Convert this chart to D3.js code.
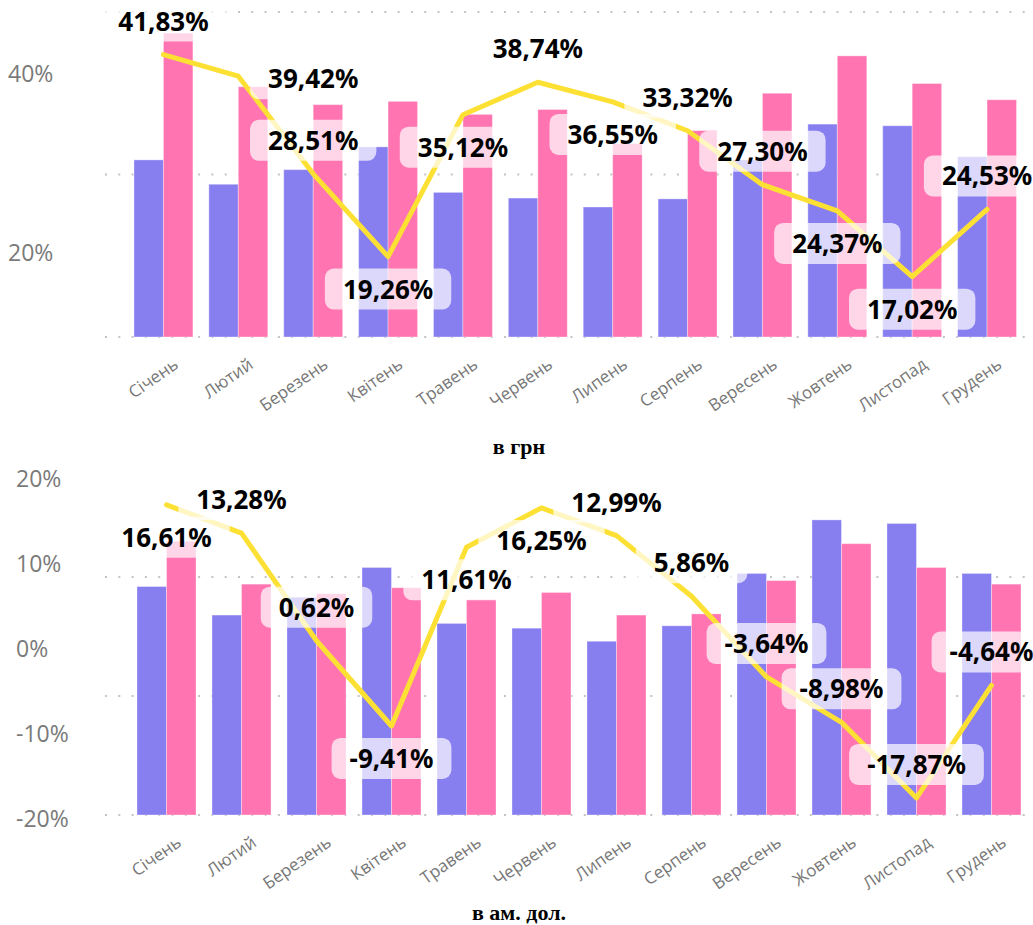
<!DOCTYPE html>
<html>
<head>
<meta charset="utf-8">
<script src="https://cdn.jsdelivr.net/npm/d3@7"></script>
<style>
  body { margin: 0; background: #fff; }
  svg { display: block; }
</style>
</head>
<body>
<div id="chart"></div>
<script>
var months = ["Січень", "Лютий", "Березень", "Квітень", "Травень", "Червень",
  "Липень", "Серпень", "Вересень", "Жовтень", "Листопад", "Грудень"];

// top chart (в грн): line = growth %, bars on hidden axis
var grnRate = [41.83, 39.42, 28.51, 19.26, 35.12, 38.74, 36.55, 33.32, 27.30, 24.37, 17.02, 24.53];
var grnPrev = [10.9, 9.4, 10.3, 11.7, 8.9, 8.55, 8.0, 8.5, 10.9, 13.1, 13.0, 11.1];
var grnCurr = [18.7, 15.4, 14.3, 14.5, 13.7, 14.0, 11.9, 12.7, 15.0, 17.3, 15.6, 14.6];

// bottom chart (в ам. дол.)
var usdRate = [16.61, 13.28, 0.62, -9.41, 11.61, 16.25, 12.99, 5.86, -3.64, -8.98, -17.87, -4.64];
var usdPrev = [19.2, 16.8, 18.3, 20.8, 16.1, 15.7, 14.6, 15.9, 20.3, 24.8, 24.5, 20.3];
var usdCurr = [23.0, 19.4, 18.6, 19.1, 18.1, 18.7, 16.8, 16.9, 19.7, 22.8, 20.8, 19.4];

// where Power BI put each data label
var grnLabelPlace = ["above", "right", "above", "below", "below", "above", "below", "above", "above", "below", "below", "above"];
var usdLabelPlace = ["below", "above", "above", "below", "below", "below", "above", "above", "above", "above", "above", "above"];

var purple = "#877ef0", pink = "#ff74b1", yellow = "#fde034";

var loc = d3.formatLocale({ decimal: ",", thousands: " ", grouping: [3], currency: ["", ""], minus: "-" });
var pct = loc.format(".2f");

var svg = d3.select("#chart").append("svg")
  .attr("width", 1033).attr("height", 925);

function drawPanel(o) {
  var g = svg.append("g");

  var x = d3.scaleBand().domain(months).range(o.xRange)
    .paddingInner(0.213).paddingOuter(0.1065);
  var sub = d3.scaleBand().domain([0, 1]).range([0, x.bandwidth()]);
  var yBar = d3.scaleLinear().domain([0, 20]).range(o.barRange);
  var yLine = d3.scaleLinear().domain(o.lineDomain).range(o.lineRange);

  // dotted gridlines of the hidden bar axis
  g.selectAll(".grid").data([0, 10, 20].filter(function (t) { return yBar(t) >= o.top; }))
    .enter().append("line")
    .attr("x1", 105).attr("x2", 1033)
    .attr("y1", function (d) { return yBar(d); })
    .attr("y2", function (d) { return yBar(d); })
    .attr("stroke", "#c4c4c4").attr("stroke-width", 2)
    .attr("stroke-dasharray", "2 11.3");

  // left axis (line values)
  g.selectAll(".tick").data(o.ticks).enter().append("text")
    .attr("x", o.tickX).attr("y", function (d) { return yLine(d) + 11; })
    .attr("font-family", "Open Sans, sans-serif").attr("font-size", 23)
    .attr("fill", "#7a7a7a")
    .text(function (d) { return d + "%"; });

  // bars
  var groups = g.selectAll(".month").data(months).enter().append("g")
    .attr("transform", function (d) { return "translate(" + x(d) + ",0)"; });
  groups.append("rect")
    .attr("x", sub(0)).attr("width", sub.bandwidth())
    .attr("y", function (d, i) { return yBar(o.prev[i]); })
    .attr("height", function (d, i) { return yBar(0) - yBar(o.prev[i]); })
    .attr("fill", purple).attr("stroke", "#fff").attr("stroke-opacity", 0.35);
  groups.append("rect")
    .attr("x", sub(1)).attr("width", sub.bandwidth())
    .attr("y", function (d, i) { return yBar(o.curr[i]); })
    .attr("height", function (d, i) { return yBar(0) - yBar(o.curr[i]); })
    .attr("fill", pink).attr("stroke", "#fff").attr("stroke-opacity", 0.35);

  // month labels
  g.selectAll(".mlabel").data(months).enter().append("text")
    .attr("transform", function (d) {
      return "translate(" + (x(d) + x.bandwidth() / 2 + 16) + "," + (yBar(0) + 30) + ") rotate(-35)";
    })
    .attr("text-anchor", "end")
    .attr("font-family", "Open Sans, sans-serif").attr("font-size", 17)
    .attr("fill", "#777")
    .text(function (d) { return d; });

  // line
  var cx = function (i) { return x(months[i]) + x.bandwidth() / 2; };
  var line = d3.line()
    .x(function (d, i) { return cx(i); })
    .y(function (d) { return yLine(d); });
  g.append("path").datum(o.rate)
    .attr("d", line)
    .attr("fill", "none").attr("stroke", yellow).attr("stroke-width", 5)
    .attr("stroke-linejoin", "round").attr("stroke-linecap", "round");

  // data labels with translucent rounded boxes
  var labels = g.selectAll(".dl").data(o.rate).enter().append("g")
    .attr("transform", function (d, i) {
      var px = cx(i), py = yLine(d);
      var p = o.place[i];
      if (p === "above") py -= 33;
      else if (p === "below") py += 33;
      else { px += x.step(); py += 3; }
      return "translate(" + px + "," + py + ")";
    });
  var box = labels.append("rect")
    .attr("fill", "#fff").attr("fill-opacity", 0.7)
    .attr("rx", 9).attr("ry", 9);
  labels.append("text")
    .attr("text-anchor", "middle").attr("y", 9)
    .attr("font-family", "Noto Sans, sans-serif").attr("font-weight", 700)
    .attr("font-size", 26).attr("fill", "#000")
    .text(function (d) { return pct(d) + "%"; });
  labels.each(function () {
    var t = d3.select(this).select("text").node().getComputedTextLength();
    d3.select(this).select("rect")
      .attr("x", -t / 2 - 18).attr("y", -21)
      .attr("width", t + 36).attr("height", 41);
  });

  // caption under the chart
  g.append("text")
    .attr("x", 519).attr("y", o.titleY)
    .attr("text-anchor", "middle")
    .attr("font-family", "Liberation Serif, serif").attr("font-weight", 700)
    .attr("font-size", 22).attr("fill", "#000")
    .text(o.title);
}

drawPanel({
  top: 0,
  xRange: [126, 1024.5],
  barRange: [337, 12],
  lineDomain: [0, 40], lineRange: [429, 71],
  ticks: [20, 40], tickX: 8,
  prev: grnPrev, curr: grnCurr, rate: grnRate, place: grnLabelPlace,
  title: "в грн", titleY: 454
});

drawPanel({
  top: 470,
  xRange: [129, 1029],
  barRange: [815, 577],
  lineDomain: [-20, 20], lineRange: [816, 476],
  ticks: [-20, -10, 0, 10, 20], tickX: 16,
  prev: usdPrev, curr: usdCurr, rate: usdRate, place: usdLabelPlace,
  title: "в ам. дол.", titleY: 920
});
</script>
</body>
</html>
